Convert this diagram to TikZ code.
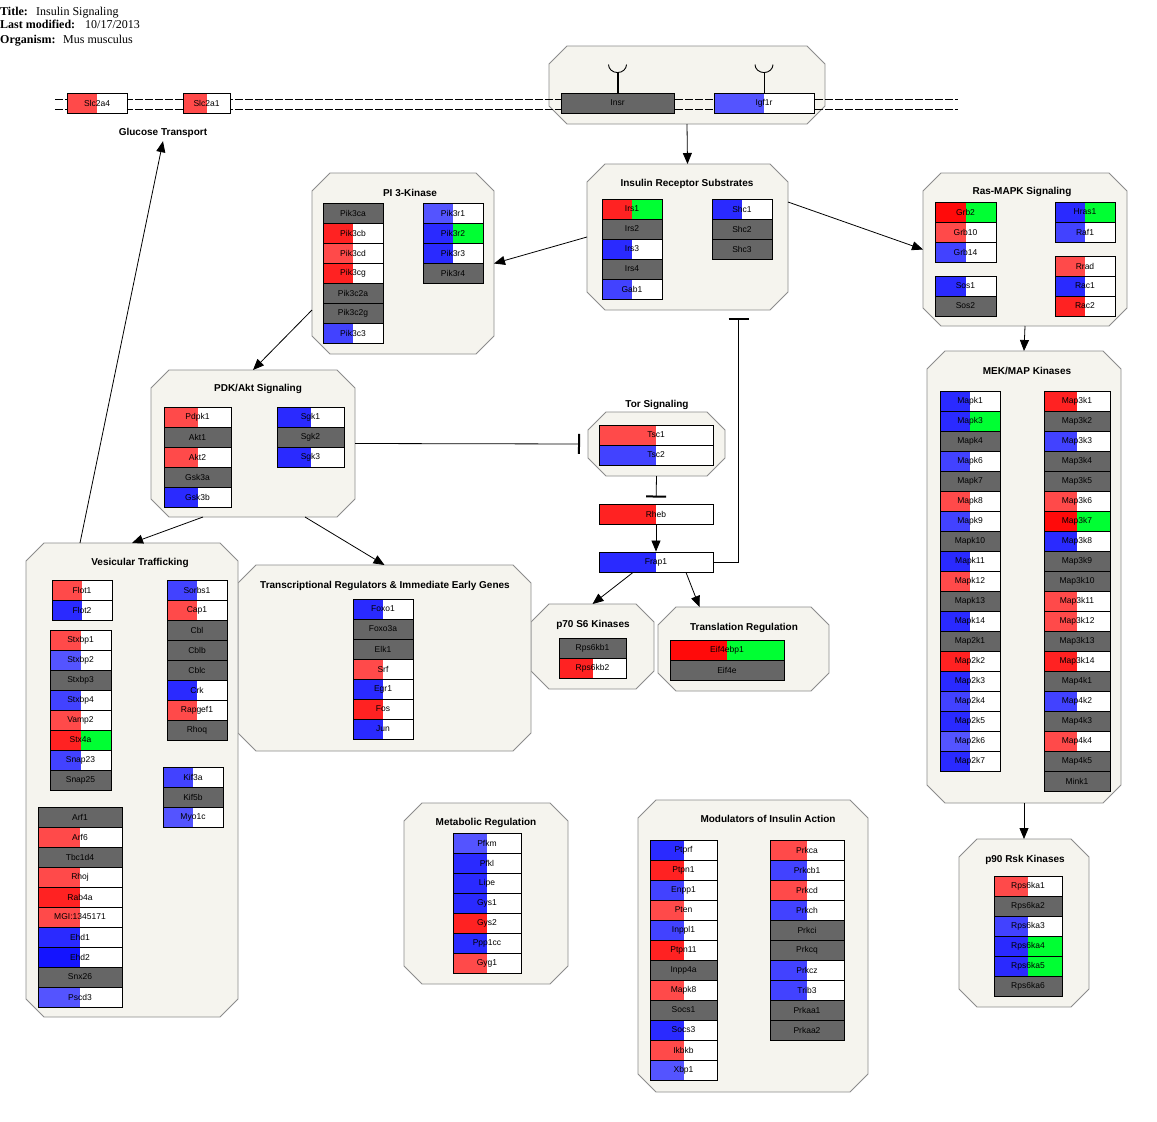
\documentclass[tikz,border=0pt]{standalone}
\usepackage{fontspec}
\setmainfont{Liberation Serif}
\setsansfont{Liberation Sans}
\usetikzlibrary{arrows.meta}

\definecolor{grpfill}{HTML}{F5F4EE}
\definecolor{grpdraw}{HTML}{8C8C8C}
\definecolor{rA}{HTML}{FF2222}
\definecolor{rB}{HTML}{FF4A4A}
\definecolor{rC}{HTML}{FF0A0A}
\definecolor{bA}{HTML}{2A2AFF}
\definecolor{bB}{HTML}{4242FF}
\definecolor{bC}{HTML}{5454FF}
\definecolor{bD}{HTML}{1414FF}
\definecolor{gn}{HTML}{00FF33}
\definecolor{gy}{HTML}{666666}

\tikzset{
  gene/.style 2 args={draw=black, line width=0.9pt, fill=#2, minimum height=20pt, inner sep=0pt,
    font=\sffamily\fontsize{8.5}{9}\selectfont,
    path picture={\fill[#1] (path picture bounding box.south west) rectangle (path picture bounding box.north);}},
  grp/.style={draw=none, inner sep=0pt, outer sep=0pt},
  grptitle/.style={font=\sffamily\bfseries\fontsize{10}{12}\selectfont},
  hdrkey/.style={anchor=base west, inner sep=0pt, font=\rmfamily\bfseries\fontsize{12}{14}\selectfont},
  hdrval/.style={anchor=base west, inner sep=0pt, font=\rmfamily\fontsize{12}{14}\selectfont},
  memb/.style={line width=0.9pt, dash pattern=on 8pt off 2pt},
  arr/.style={-{Triangle[length=11pt,width=9pt]}, line width=0.8pt},
  inh/.style={-{Bar[width=20pt,line width=2pt]}, line width=0.8pt},
}

\newcommand{\octgrp}[5]{%
  \draw[grpdraw, fill=grpfill, line width=0.8pt] ({#2+18},#3) -- ({#4-18},#3) -- (#4,{#3+18}) -- (#4,{#5-18})
    -- ({#4-18},#5) -- ({#2+18},#5) -- (#2,{#5-18}) -- (#2,{#3+18}) -- cycle;
  \node[grp, minimum width={(#4-#2)*1pt}, minimum height={(#5-#3)*1pt}] (#1) at ({(#2+#4)/2},{(#3+#5)/2}) {};}

\newcommand{\genecol}[4]{%
  \foreach \g/\l/\r [count=\i from 0] in {#4}
    \node[gene={\l}{\r}, minimum width=#3pt] (\g) at ({#1+#3/2},{#2+10+20*\i}) {\g};}

\begin{document}
\begin{tikzpicture}[x=1pt, y=-1pt]
  \fill[white] (0,0) rectangle (1157,1122);
  \useasboundingbox (0,0) rectangle (1157,1122);

  \node[hdrkey] (titlekey) at (0,15.5) {Title:};
  \node[hdrval] (titleval) at (36,15.5) {Insulin Signaling};
  \node[hdrkey] (modkey) at (0,28.5) {Last modified:};
  \node[hdrval] (modval) at (85,28.5) {10/17/2013};
  \node[hdrkey] (orgkey) at (0,43) {Organism:};
  \node[hdrval] (orgval) at (63,43) {Mus musculus};

  \octgrp{recep}{549}{46}{825}{124}
  \octgrp{irs}{587}{164}{788}{310}
  \octgrp{pik}{312}{173}{494}{354}
  \octgrp{ras}{923}{173}{1127}{326}
  \octgrp{mek}{927}{351}{1121}{803}
  \octgrp{rsk}{959}{839}{1089}{1007}
  \octgrp{pdk}{151}{370}{355}{517}
  \octgrp{tor}{588}{412}{725}{476}
  \octgrp{svk}{531}{604}{654}{689}
  \octgrp{transl}{658}{607}{829}{691}
  \octgrp{tf}{238}{565}{531}{751}
  \octgrp{vesic}{26}{543}{238}{1017}
  \octgrp{metab}{404}{803}{568}{984}
  \octgrp{modul}{638}{800}{868}{1092}

  \node[grptitle] (glut) at (163,133) {Glucose Transport};
  \node[grptitle] (irstitle) at (687,184) {Insulin Receptor Substrates};
  \node[grptitle] (piktitle) at (410,193) {PI 3-Kinase};
  \node[grptitle] (rastitle) at (1022,192) {Ras-MAPK Signaling};
  \node[grptitle] (mektitle) at (1027,371) {MEK/MAP Kinases};
  \node[grptitle] (rsktitle) at (1025,860) {p90 Rsk Kinases};
  \node[grptitle] (pdktitle) at (258,389) {PDK/Akt Signaling};
  \node[grptitle] (tortitle) at (657,405) {Tor Signaling};
  \node[grptitle] (svktitle) at (593,625) {p70 S6 Kinases};
  \node[grptitle] (transltitle) at (744,628) {Translation Regulation};
  \node[grptitle] (tftitle) at (385,586) {Transcriptional Regulators \& Immediate Early Genes};
  \node[grptitle] (vesictitle) at (140,563) {Vesicular Trafficking};
  \node[grptitle] (metabtitle) at (486,823) {Metabolic Regulation};
  \node[grptitle] (modultitle) at (768,819) {Modulators of Insulin Action};

  \draw[memb] (55,99) -- (958,99);
  \draw[memb] (55,109) -- (958,109);

  \node[gene={rB}{white}, minimum width=60pt] (Slc2a4) at (97,103) {Slc2a4};
  \node[gene={rB}{white}, minimum width=47pt] (Slc2a1) at (206.5,103) {Slc2a1};
  \node[gene={gy}{gy}, minimum width=113pt] (Insr) at (617.5,103) {Insr};
  \node[gene={bC}{white}, minimum width=100pt] (Igf1r) at (764,103) {Igf1r};
  \draw[line width=2pt] (Insr.north) -- ++(0,-20) coordinate (insrtop);
  \draw[line width=0.9pt] ([xshift=-9pt,yshift=8pt]insrtop) arc[start angle=180, end angle=360, x radius=9pt, y radius=8pt];
  \draw[line width=0.9pt] (Igf1r.north) -- ++(0,-20) coordinate (igftop);
  \draw[line width=0.9pt] ([xshift=-9pt,yshift=8pt]igftop) arc[start angle=180, end angle=360, x radius=9pt, y radius=8pt];

  \genecol{602}{199}{60}{Irs1/rA/gn, Irs2/gy/gy, Irs3/bA/white, Irs4/gy/gy, Gab1/bB/white}
  \genecol{712}{199}{60}{Shc1/bA/white, Shc2/gy/gy, Shc3/gy/gy}

  \genecol{323}{203}{60}{Pik3ca/gy/gy, Pik3cb/rA/white, Pik3cd/rB/white, Pik3cg/rA/white, Pik3c2a/gy/gy, Pik3c2g/gy/gy, Pik3c3/bB/white}
  \genecol{423}{203}{60}{Pik3r1/bC/white, Pik3r2/bA/gn, Pik3r3/bA/white, Pik3r4/gy/gy}

  \genecol{935}{202}{61}{Grb2/rC/gn, Grb10/rB/white, Grb14/bB/white}
  \genecol{935}{276}{61}{Sos1/bA/white, Sos2/gy/gy}
  \genecol{1055}{202}{60}{Hras1/bA/gn, Raf1/bB/white}
  \genecol{1055}{256}{60}{Rrad/rB/white, Rac1/bA/white, Rac2/rA/white}

  \genecol{940}{391}{60}{Mapk1/bA/white, Mapk3/bA/gn, Mapk4/gy/gy, Mapk6/bB/white, Mapk7/gy/gy, Mapk8/rB/white, Mapk9/bB/white, Mapk10/gy/gy, Mapk11/bA/white, Mapk12/rB/white, Mapk13/gy/gy, Mapk14/bA/white, Map2k1/gy/gy, Map2k2/rA/white, Map2k3/bA/white, Map2k4/bB/white, Map2k5/bA/white, Map2k6/bC/white, Map2k7/bA/white}
  \genecol{1044}{391}{66}{Map3k1/rA/white, Map3k2/gy/gy, Map3k3/bB/white, Map3k4/gy/gy, Map3k5/gy/gy, Map3k6/rB/white, Map3k7/rC/gn, Map3k8/bA/white, Map3k9/gy/gy, Map3k10/gy/gy, Map3k11/rB/white, Map3k12/rB/white, Map3k13/gy/gy, Map3k14/rA/white, Map4k1/gy/gy, Map4k2/bB/white, Map4k3/gy/gy, Map4k4/rB/white, Map4k5/gy/gy, Mink1/gy/gy}

  \genecol{994}{876}{68}{Rps6ka1/rB/white, Rps6ka2/gy/gy, Rps6ka3/bB/white, Rps6ka4/bA/gn, Rps6ka5/bA/gn, Rps6ka6/gy/gy}

  \genecol{164}{407}{67}{Pdpk1/rB/white, Akt1/gy/gy, Akt2/rB/white, Gsk3a/gy/gy, Gsk3b/bA/white}
  \genecol{277}{407}{67}{Sgk1/bA/white, Sgk2/gy/gy, Sgk3/bA/white}

  \genecol{599}{425}{114}{Tsc1/rB/white, Tsc2/bB/white}
  \genecol{599}{504}{114}{Rheb/rA/white}
  \genecol{599}{552}{114}{Frap1/bA/white}

  \genecol{559}{638}{67}{Rps6kb1/gy/gy, Rps6kb2/rA/white}
  \genecol{670}{640}{114}{Eif4ebp1/rC/gn, Eif4e/gy/gy}
  \genecol{353}{599}{60}{Foxo1/bA/white, Foxo3a/gy/gy, Elk1/gy/gy, Srf/rB/white, Egr1/bA/white, Fos/rA/white, Jun/bA/white}

  \genecol{52}{580}{60}{Flot1/rB/white, Flot2/bA/white}
  \genecol{50}{630}{61}{Stxbp1/rB/white, Stxbp2/bC/white, Stxbp3/gy/gy, Stxbp4/bB/white, Vamp2/rB/white, Stx4a/rA/gn, Snap23/bB/white, Snap25/gy/gy}
  \genecol{38}{807}{84}{Arf1/gy/gy, Arf6/rB/white, Tbc1d4/gy/gy, Rhoj/rB/white, Rab4a/rA/white}
  \node[gene={rB}{white}, minimum width=84pt] (mgi) at (80,917) {MGI:1345171};
  \genecol{38}{927}{84}{Ehd1/bA/white, Ehd2/bD/white, Snx26/gy/gy, Pscd3/bC/white}
  \genecol{167}{580}{60}{Sorbs1/bB/white, Cap1/rB/white, Cbl/gy/gy, Cblb/gy/gy, Cblc/gy/gy, Crk/bA/white, Rapgef1/rB/white, Rhoq/gy/gy}
  \genecol{163}{767}{60}{Kif3a/bB/white, Kif5b/gy/gy, Myo1c/bC/white}

  \genecol{453}{833}{68}{Pfkm/bC/white, Pfkl/bA/white, Lipe/bA/white, Gys1/bA/white, Gys2/rA/white, Ppp1cc/bA/white, Gyg1/rB/white}

  \genecol{650}{840}{67}{Ptprf/bA/white, Ptpn1/rA/white, Enpp1/bB/white, Pten/rB/white, Inppl1/bB/white, Ptpn11/rA/white, Inpp4a/gy/gy, Mapk8/rB/white, Socs1/gy/gy, Socs3/bA/white, Ikbkb/rB/white, Xbp1/bC/white}
  \genecol{770}{840}{74}{Prkca/rB/white, Prkcb1/bB/white, Prkcd/rB/white, Prkch/bB/white, Prkci/gy/gy, Prkcq/gy/gy, Prkcz/bB/white, Trib3/bB/white, Prkaa1/gy/gy, Prkaa2/gy/gy}

  \draw[arr] (recep.south) -- (irs.north);
  \draw[arr] (irs.west) -- (pik.east);
  \draw[arr] (irs.east |- 0,202) -- (ras.west);
  \draw[arr] (ras.south) -- (mek.north);
  \draw[arr] (mek.south) -- (rsk.north);
  \draw[arr] (pik.west |- 0,310) -- (pdk.north);
  \draw[arr] ([xshift=-50pt]pdk.south) -- (vesic.north);
  \draw[arr] ([xshift=52pt]pdk.south) -- (tf.north);
  \draw[inh, shorten >=8pt] (pdk.east) -- (tor.west);
  \draw[inh, shorten >=6pt] (tor.south) -- (Rheb.north);
  \draw[arr] (Rheb.south) -- (Frap1.north);
  \draw[arr] ([xshift=-23pt]Frap1.south) -- (svk.north);
  \draw[arr] ([xshift=30pt]Frap1.south) -- ([xshift=-44pt]transl.north);
  \draw[inh, shorten >=8pt] (Frap1.east) -| ([xshift=51pt]irs.south);
  \draw[arr] ([xshift=-52pt]vesic.north) -- (glut.south);
\end{tikzpicture}
\end{document}
